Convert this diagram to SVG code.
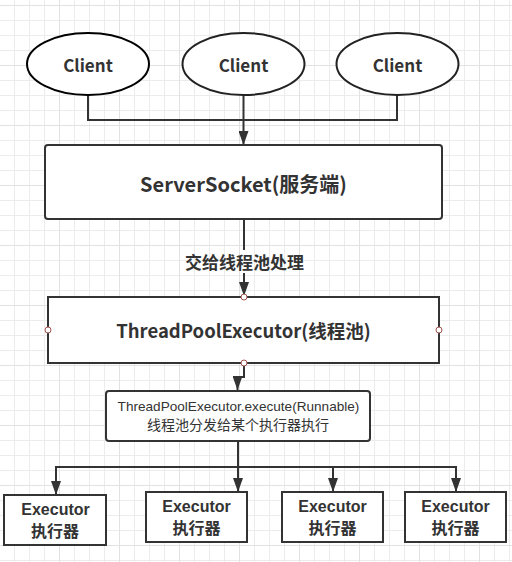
<svg xmlns="http://www.w3.org/2000/svg" width="512" height="562" viewBox="0 0 512 562">
<defs>
<pattern id="grid" x="-1" y="5" width="60" height="60" patternUnits="userSpaceOnUse">
<rect x="0" y="0" width="60" height="60" fill="#ffffff"/>
<rect x="15" y="0" width="1" height="60" fill="#ececec"/>
<rect x="30" y="0" width="1" height="60" fill="#ececec"/>
<rect x="45" y="0" width="1" height="60" fill="#ececec"/>
<rect x="0" y="15" width="60" height="1" fill="#ececec"/>
<rect x="0" y="30" width="60" height="1" fill="#ececec"/>
<rect x="0" y="45" width="60" height="1" fill="#ececec"/>
<rect x="0" y="0" width="1" height="60" fill="#e2e2e2"/>
<rect x="0" y="0" width="60" height="1" fill="#e2e2e2"/>
</pattern>
<marker id="arr" markerWidth="14" markerHeight="10" refX="14" refY="5" orient="auto" markerUnits="userSpaceOnUse" viewBox="0 0 14 10">
<path d="M0,0 L14,5 L0,10 Z" fill="#333"/>
</marker>
</defs>
<style>
.shape{fill:#fff;stroke:#333;stroke-width:2}
.ell{fill:#fff;stroke:#222;stroke-width:2}
.ln{fill:none;stroke:#333;stroke-width:2}
.t{font-family:"Noto Sans CJK SC","Noto Sans",sans-serif;fill:#333;text-anchor:middle;dominant-baseline:central}
.a{font-family:"Noto Sans CJK SC",sans-serif;fill:#333;text-anchor:middle}
.l{font-family:"Liberation Sans",Arial,sans-serif;fill:#333;text-anchor:middle}
.b{font-weight:bold}
.pt{fill:#fff;stroke:#a0524d;stroke-width:1}
</style>
<rect x="0" y="0" width="512" height="562" fill="url(#grid)"/>

<g id="connectors">
<path class="ln" d="M88,95 V120 H397 V95"/>
<path class="ln" d="M243.5,95 V145" marker-end="url(#arr)"/>
<path class="ln" d="M244,219 V250"/>
<path class="ln" d="M244,273 V296" marker-end="url(#arr)"/>
<text class="t b" x="244.5" y="261" font-size="17">交给线程池处理</text>
<path class="ln" d="M244,363 V377 H237.5 V390" marker-end="url(#arr)"/>
<path class="ln" d="M238,441 V467"/>
<path class="ln" d="M56,481 V467 H456 V492" marker-end="url(#arr)"/>
<path class="ln" d="M56,467 V495" marker-end="url(#arr)"/>
<path class="ln" d="M238,467 V492" marker-end="url(#arr)"/>
<path class="ln" d="M333,467 V492" marker-end="url(#arr)"/>
</g>

<g id="client1">
<ellipse class="ell" cx="88" cy="64" rx="61" ry="31" style="stroke:#000"/>
<text class="t b" x="88" y="64" font-size="17">Client</text>
</g>
<g id="client2">
<ellipse class="ell" cx="243.5" cy="64" rx="61" ry="31"/>
<text class="t b" x="243.5" y="64" font-size="17">Client</text>
</g>
<g id="client3">
<ellipse class="ell" cx="397.5" cy="64" rx="61" ry="31"/>
<text class="t b" x="397.5" y="64" font-size="17">Client</text>
</g>

<g id="server">
<rect class="shape" x="45" y="145" width="397" height="74" rx="3"/>
<text class="t b" x="243.5" y="183" font-size="20">ServerSocket(服务端)</text>
</g>

<g id="pool">
<rect class="shape" x="48" y="297" width="391" height="66"/>
<text class="t b" x="243.5" y="330" font-size="18.5">ThreadPoolExecutor(线程池)</text>
<circle class="pt" cx="244" cy="297" r="3"/>
<circle class="pt" cx="48" cy="330" r="3"/>
<circle class="pt" cx="439" cy="330" r="3"/>
<circle class="pt" cx="244" cy="363" r="3"/>
</g>

<g id="dispatch">
<rect class="shape" x="106" y="391" width="264" height="50" rx="3"/>
<text class="l" x="238.5" y="410.5" font-size="13.6">ThreadPoolExecutor.execute(Runnable)</text>
<text class="a" x="238" y="429.9" font-size="14">线程池分发给某个执行器执行</text>
</g>

<g id="exec1">
<rect class="shape" x="4" y="495" width="102" height="50"/>
<text class="l b" x="55.5" y="515" font-size="16">Executor</text>
<text class="a b" x="55" y="537.3" font-size="16">执行器</text>
</g>
<g id="exec2">
<rect class="shape" x="146" y="492" width="101" height="50"/>
<text class="l b" x="196.5" y="512" font-size="16">Executor</text>
<text class="a b" x="196.5" y="534.3" font-size="16">执行器</text>
</g>
<g id="exec3">
<rect class="shape" x="282" y="492" width="101" height="50"/>
<text class="l b" x="332.5" y="512" font-size="16">Executor</text>
<text class="a b" x="332.5" y="534.3" font-size="16">执行器</text>
</g>
<g id="exec4">
<rect class="shape" x="405" y="492" width="101" height="50"/>
<text class="l b" x="455.5" y="512" font-size="16">Executor</text>
<text class="a b" x="455.5" y="534.3" font-size="16">执行器</text>
</g>
</svg>
